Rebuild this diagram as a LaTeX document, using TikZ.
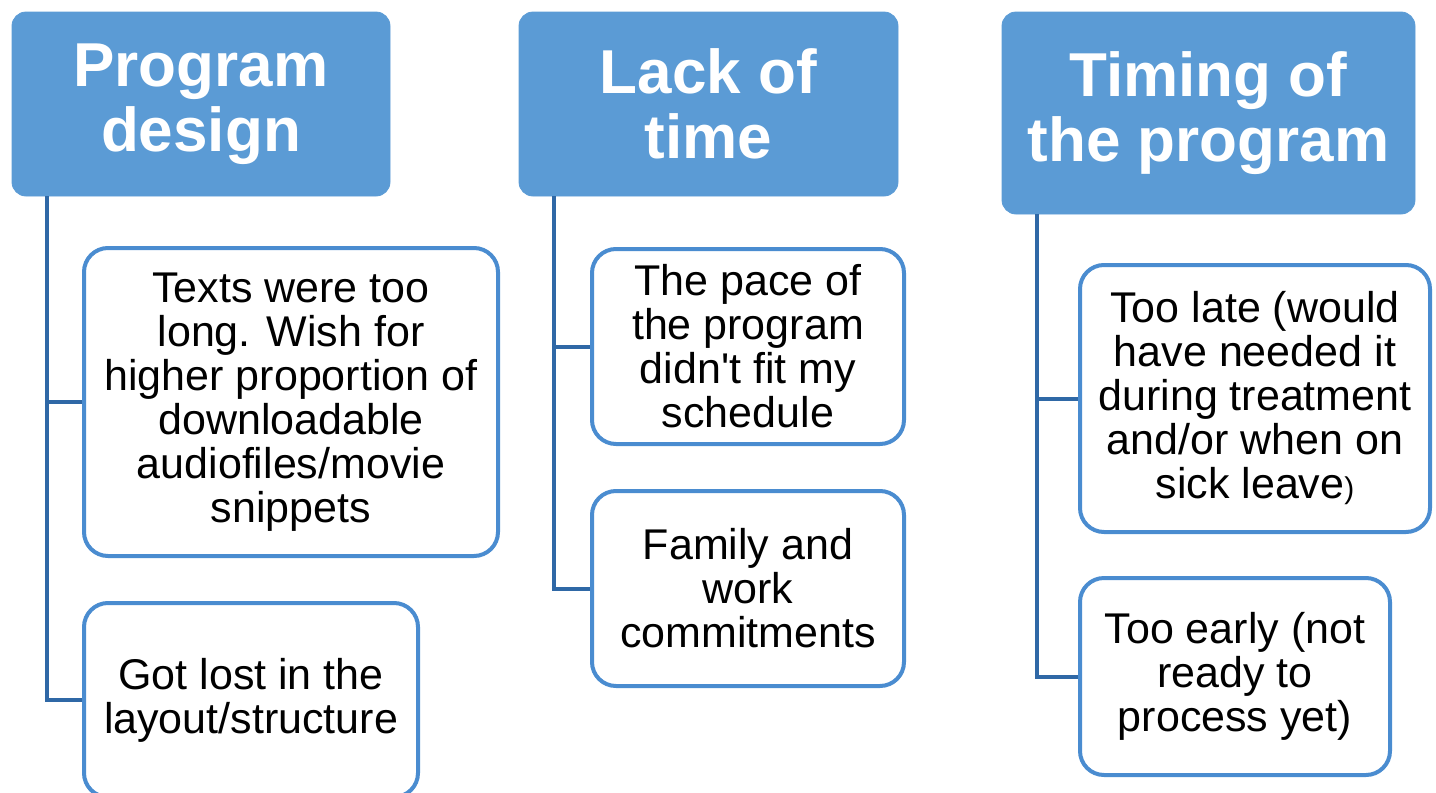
\documentclass[tikz,border=0pt]{standalone}
\usepackage{fontspec}
\setmainfont{Liberation Sans}
\usepackage{tikz}
\usetikzlibrary{positioning, calc}

\definecolor{hdblue}{HTML}{5B9BD5}
\definecolor{boxblue}{HTML}{4A8CD0}
\definecolor{linkblue}{HTML}{2F68A6}

\begin{document}
\begin{tikzpicture}[x=0.5pt, y=-0.5pt,
        head/.style={rectangle, rounded corners=7pt, fill=hdblue, draw=hdblue, text=white,
            align=center, inner sep=0pt, font=\fontsize{31}{32.5}\selectfont\bfseries},
        item/.style={rectangle, rounded corners=12pt, draw=boxblue, line width=2pt, fill=white,
            align=center, inner sep=0pt, font=\fontsize{21.5}{22}\selectfont},
        link/.style={draw=linkblue, line width=2pt}]

    \useasboundingbox (0,0) rectangle (1436,793);

    % --- headers ---
    \node[head, minimum width=189pt, minimum height=92pt] (hdDesign) at (201,104) {Program\\design};
    \node[head, minimum width=189.5pt, minimum height=92pt] (hdTime) at (708.5,104) {Lack of\\time};
    \node[head, minimum width=206.5pt, minimum height=101pt] (hdTiming) at (1208.5,113) {Timing of\\the program};

    % --- items ---
    \node[item, minimum width=207pt, minimum height=154pt] (chTexts) at (291,402)
        {Texts were too\\long. Wish for\\higher proportion of\\downloadable\\audiofiles/movie\\snippets};
    \node[item, minimum width=167pt, minimum height=97pt] (chLost) at (251,700)
        {Got lost in the\\layout/structure};
    \node[item, minimum width=156pt, minimum height=97.5pt] (chPace) at (748,346.5)
        {The pace of\\the program\\didn\textquotesingle t fit my\\schedule};
    \node[item, minimum width=156pt, minimum height=97.5pt] (chFamily) at (748,588.5)
        {Family and\\work\\commitments};
    \node[item, minimum width=175pt, minimum height=133.5pt] (chLate) at (1255,398.5)
        {Too late (would\\have needed it\\during treatment\\and/or when on\\sick leave{\fontsize{15}{22}\selectfont)}};
    \node[item, minimum width=155pt, minimum height=98.5pt] (chEarly) at (1235,676.5)
        {Too early (not\\ready to\\process yet)};

    % --- connectors ---
    \foreach \h/\c in {hdDesign/chTexts, hdDesign/chLost, hdTime/chPace, hdTime/chFamily,
                       hdTiming/chLate, hdTiming/chEarly}
        \draw[link] ([xshift=17.5pt]\h.south west) |- (\c.west);
\end{tikzpicture}
\end{document}
